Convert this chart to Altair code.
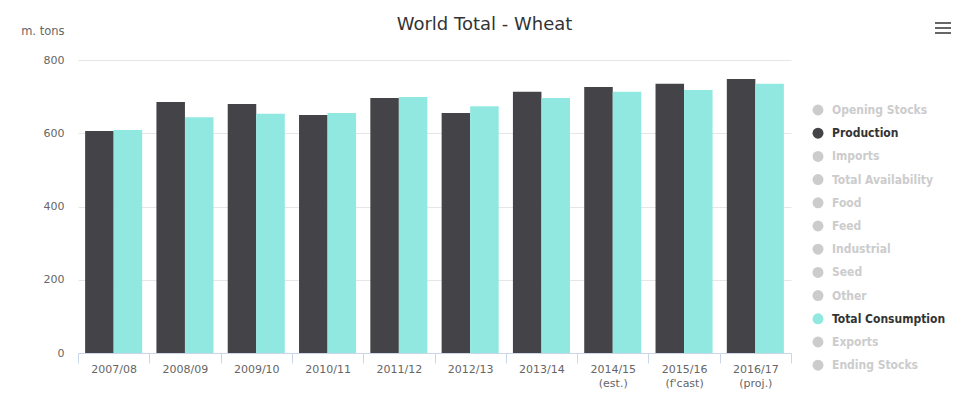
import altair as alt
import pandas as pd

# ---- data ----
seasons = ["2007/08", "2008/09", "2009/10", "2010/11", "2011/12", "2012/13",
           "2013/14", "2014/15 (est.)", "2015/16 (f'cast)", "2016/17 (proj.)"]
production = [606, 685, 680, 650, 696, 655, 713, 726, 735, 748]
consumption = [609, 644, 653, 655, 699, 674, 696, 713, 718, 735]

series_names = ["Opening Stocks", "Production", "Imports", "Total Availability",
                "Food", "Feed", "Industrial", "Seed", "Other",
                "Total Consumption", "Exports", "Ending Stocks"]
visible = ["Production", "Total Consumption"]
series_colors = ["#cccccc", "#434348", "#cccccc", "#cccccc", "#cccccc", "#cccccc",
                 "#cccccc", "#cccccc", "#cccccc", "#91e8e1", "#cccccc", "#cccccc"]
y_ticks = [0, 200, 400, 600, 800]

rows = []
for s, p, c in zip(seasons, production, consumption):
    rows.append({"season": s, "series": "Production", "value": p})
    rows.append({"season": s, "series": "Total Consumption", "value": c})
df = pd.DataFrame(rows)

FONT = "DejaVu Sans"
W, H = 713, 293

label_color_expr = ("indexof(['Production','Total Consumption'], datum.value) >= 0"
                    " ? '#333333' : '#cccccc'")

bars = alt.Chart(df).mark_bar().encode(
    x=alt.X("season:N", sort=seasons,
            scale=alt.Scale(paddingInner=0, paddingOuter=0),
            axis=alt.Axis(title=None, labelAngle=0,
                          labelExpr="split(datum.label, ' ')",
                          labelColor="#666666", labelFont=FONT, labelFontSize=11,
                          labelLineHeight=14, labelPadding=0,
                          domainColor="#ccd6eb", tickColor="#ccd6eb",
                          tickSize=10, tickBand="extent", grid=False)),
    xOffset=alt.XOffset("series:N", sort=visible,
                        scale=alt.Scale(domain=visible, paddingInner=0, paddingOuter=0.25)),
    y=alt.Y("value:Q", scale=alt.Scale(domain=[0, 800], nice=False),
            axis=alt.Axis(values=y_ticks, grid=True, gridColor="#e6e6e6",
                          domain=False, ticks=False, labelColor="#666666",
                          labelFont=FONT, labelFontSize=11, labelPadding=14,
                          title="m. tons", titleAngle=0, titleAlign="right",
                          titleBaseline="alphabetic", titleX=-14, titleY=-26,
                          titleColor="#666666", titleFont=FONT,
                          titleFontSize=11.5, titleFontWeight="normal")),
    color=alt.Color("series:N",
                    scale=alt.Scale(domain=series_names, range=series_colors),
                    legend=alt.Legend(orient="none", legendX=734, legendY=44,
                                      title=None, direction="vertical",
                                      symbolType="circle", symbolSize=120,
                                      symbolStrokeWidth=0, symbolOpacity=1,
                                      labelFont="DejaVu Sans Condensed",
                                      labelFontSize=12, labelFontWeight="bold",
                                      labelOffset=8, rowPadding=11.2,
                                      labelColor=alt.ExprRef(label_color_expr))),
)

menu_df = pd.DataFrame({"k": [0]})
menu = alt.layer(*[
    alt.Chart(menu_df).mark_rule(color="#666666", strokeWidth=2).encode(
        x=alt.value(857), x2=alt.value(873), y=alt.value(yy))
    for yy in (-37, -32, -27)
])

chart = alt.layer(bars, menu).properties(
    width=W, height=H,
    background="white",
    title=alt.TitleParams("World Total - Wheat", fontSize=18, font=FONT,
                          color="#333333", fontWeight="normal", anchor="middle",
                          frame="group", dx=50, dy=17, baseline="alphabetic",
                          offset=-9),
    padding={"left": 78, "top": 60, "right": 178, "bottom": 53},
    autosize=alt.AutoSizeParams(type="none"),
).configure_view(strokeWidth=0, stroke="transparent")

chart.save("out.html", embed_options={"renderer": "svg", "actions": False})
